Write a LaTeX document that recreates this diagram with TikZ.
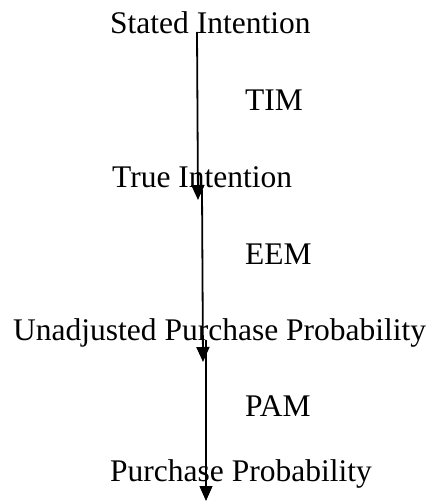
\documentclass[tikz,border=0pt]{standalone}
\usepackage{fontspec}
\setmainfont{Liberation Serif}
\usetikzlibrary{arrows.meta}
\begin{document}
\begin{tikzpicture}[x=1pt,y=1pt,
  lab/.style={anchor=base west,inner sep=0pt,font=\fontsize{31.5}{36}\selectfont},
  arr/.style={-{Triangle[width=13pt,length=15pt]},line width=1.8pt}]
\useasboundingbox (0,0) rectangle (435,-502);
\node[lab] (si) at (110,-34) {Stated Intention};
\node[lab] (tim) at (245,-111) {TIM};
\node[lab] (ti) at (112,-188) {True Intention};
\node[lab] (eem) at (245,-264) {EEM};
\node[lab] (upp) at (13,-340) {Unadjusted Purchase Probability};
\node[lab] (pam) at (245,-416) {PAM};
\node[lab] (pp) at (110,-481) {Purchase Probability};
\coordinate (a1s) at (197,-32);
\coordinate (a1e) at (198,-200);
\coordinate (a2s) at (202,-190);
\coordinate (a2e) at (203,-362);
\coordinate (a3s) at (206,-340);
\coordinate (a3e) at (206,-501);
\draw[arr] (a1s) -- (a1e);
\draw[arr] (a2s) -- (a2e);
\draw[arr,line width=1.2pt] (a3s) -- (a3e);
\end{tikzpicture}
\end{document}
